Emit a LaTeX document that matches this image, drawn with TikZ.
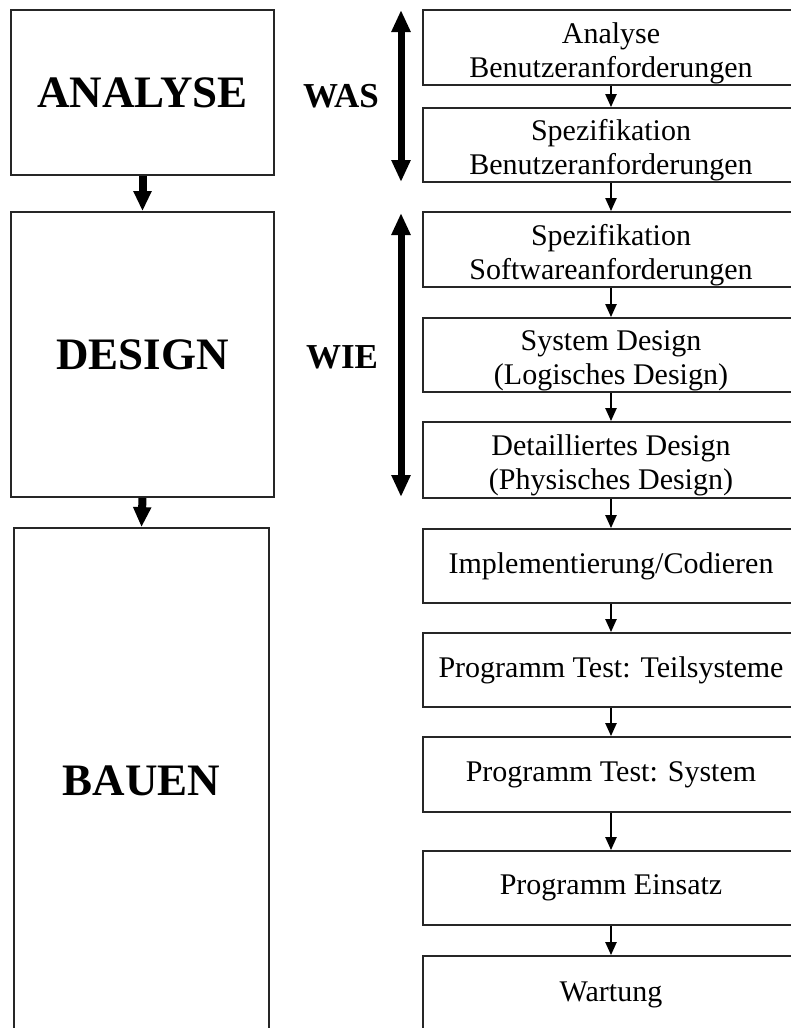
\documentclass[tikz,border=0pt]{standalone}
\usepackage{fontspec}
\setmainfont{Liberation Serif}
\usetikzlibrary{arrows.meta}
\begin{document}
\begin{tikzpicture}[x=1pt,y=-1pt,
  boxline/.style={draw=black!85, line width=1.8pt},
  phasefont/.style={font=\fontsize{45}{50}\selectfont\bfseries},
  stepfont/.style={font=\fontsize{30}{34}\selectfont},
  phase/.style={boxline, rectangle, inner sep=0pt, minimum width=263pt, phasefont},
  stepbox/.style={boxline, rectangle, inner sep=0pt, minimum width=376pt,
    minimum height=75pt, align=center, stepfont},
  % two-line labels sit slightly below the middle of their box
  twoline/.style={stepbox,
    label={[stepfont, align=center, yshift=-5.5pt]center:{#1}}},
  bigarrow/.style={line width=8pt, -{Triangle[width=17pt,length=20pt]}},
  smallarrow/.style={line width=2.2pt, -{Triangle[width=11pt,length=13pt]}},
  twoway/.style={line width=7pt,
    {Triangle[width=18pt,length=22pt]}-{Triangle[width=18pt,length=22pt]}},
  question/.style={font=\fontsize{35}{40}\selectfont\bfseries}]
\useasboundingbox (0,0) rectangle (791,1028);
\clip (0,0) rectangle (791,1028);
\fill[white] (0,0) rectangle (791,1028);

% phases on the left
\node[phase, minimum height=165pt] (analyse) at (142.5,92.5) {ANALYSE};
\node[phase, minimum height=285pt] (design) at (142.5,354.5) {DESIGN};
\node[phase, minimum width=255pt, minimum height=520pt] (bauen) at (141.5,788) {};
\node[phasefont] (bauentext) at (141.5,781) {BAUEN};
\draw[bigarrow] (analyse.south) -- (design.north);
\draw[bigarrow] (design.south) -- (bauen.north);

% WAS / WIE with their two-way arrows
\node[question] (was) at (341,96) {WAS};
\node[question] (wie) at (342,357) {WIE};
\coordinate (wastop) at (401,10);
\coordinate (wasbot) at (401,182);
\coordinate (wietop) at (401,213);
\coordinate (wiebot) at (401,497);
\draw[twoway] (wastop) -- (wasbot);
\draw[twoway] (wietop) -- (wiebot);

% steps on the right
\node[twoline={Analyse\\Benutzeranforderungen}] (s1) at (611,47.5) {};
\node[twoline={Spezifikation\\Benutzeranforderungen}, minimum height=74pt] (s2) at (611,145) {};
\node[twoline={Spezifikation\\Softwareanforderungen}] (s3) at (611,249.5) {};
\node[twoline={System Design\\(Logisches Design)}, minimum height=74pt] (s4) at (611,355) {};
\node[twoline={Detailliertes Design\\(Physisches Design)}, minimum height=76pt] (s5) at (611,460) {};
\node[stepbox, minimum height=74pt] (s6) at (611,566) {Implementierung/Codieren};
\node[stepbox, minimum height=74pt] (s7) at (611,670) {Programm Test: Teilsysteme};
\node[stepbox] (s8) at (611,774.5) {Programm Test: System};
\node[stepbox, minimum height=74pt] (s9) at (611,888) {Programm Einsatz};
\node[stepbox, minimum height=140pt] (s10) at (611,1026) {};
\node[stepfont] (s10t) at (611,995) {Wartung};

\foreach \a/\b in {s1/s2,s2/s3,s3/s4,s4/s5,s5/s6,s6/s7,s7/s8,s8/s9,s9/s10}
  \draw[smallarrow] (\a.south) -- (\b.north);
\end{tikzpicture}
\end{document}
